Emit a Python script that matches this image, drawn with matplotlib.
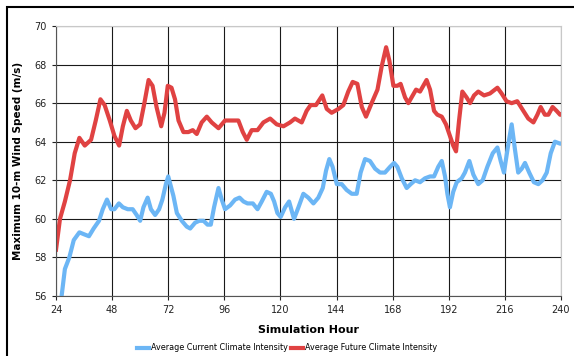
import matplotlib
matplotlib.use('Agg')
import matplotlib.pyplot as plt
from matplotlib.patches import Rectangle

# ---------------------------------------------------------------- data
cur_hour = [24, 26.4, 27.8, 29.7, 31.6, 34, 36, 38.1, 40.1, 42.4, 44, 45.8, 47.6, 49, 50.9,
            52.6, 54.7, 56.8, 58.5, 60, 61.4, 63.2, 64.6, 66.4, 68.1, 69.5, 71, 72, 74.2,
            75.7, 77.8, 79.9, 81.4, 83.5, 85.3, 87.1, 88.8, 90.2, 91.6, 93.5, 94.9, 96.3,
            98.5, 100.6, 102.5, 104.2, 105.9, 108.2, 110.2, 112, 114.1, 115.9, 117.3,
            118.7, 120.1, 122, 123.7, 125.8, 127.7, 129.8, 131.9, 134.1, 136.2, 138.1,
            139.5, 140.9, 142.3, 144.1, 146.2, 148.3, 150.5, 152.6, 154.3, 156.2, 158.3,
            160.5, 162.6, 164.7, 166.9, 168.6, 170, 171.9, 174, 175.7, 177.6, 179.7, 181.8,
            184, 185.7, 187.5, 189, 190.4, 191.4, 192.5, 193.9, 195.4, 197.5, 198.9, 200.8,
            202.5, 204.6, 206.5, 208.5, 210.8, 212.8, 214.2, 215.6, 217.5, 218.9, 220.3,
            221.7, 223.2, 224.6, 226.4, 228.4, 230.3, 232.1, 233.9, 235.6, 237.4, 239.6, 240]
cur_speed = [54.4, 56.0, 57.4, 58.0, 58.9, 59.3, 59.2, 59.1, 59.5, 59.9, 60.5, 61.0, 60.5, 60.5,
             60.8, 60.6, 60.5, 60.5, 60.2, 59.9, 60.6, 61.1, 60.5, 60.2, 60.5, 61.0, 61.8,
             62.2, 61.2, 60.3, 59.9, 59.6, 59.5, 59.8, 59.9, 59.9, 59.7, 59.7, 60.6, 61.6,
             61.0, 60.5, 60.7, 61.0, 61.1, 60.9, 60.8, 60.8, 60.5, 60.9, 61.4, 61.3, 60.9,
             60.3, 60.1, 60.6, 60.9, 60.0, 60.6, 61.3, 61.1, 60.8, 61.1, 61.6, 62.5, 63.1,
             62.7, 61.8, 61.8, 61.5, 61.3, 61.3, 62.4, 63.1, 63.0, 62.6, 62.4, 62.4, 62.7,
             62.9, 62.7, 62.1, 61.6, 61.8, 62.0, 61.9, 62.1, 62.2, 62.2, 62.7, 63.0, 62.2,
             61.3, 60.6, 61.4, 61.9, 62.1, 62.4, 63.0, 62.3, 61.8, 62.0, 62.7, 63.4, 63.7,
             63.0, 62.4, 63.9, 64.9, 63.6, 62.4, 62.6, 62.9, 62.4, 61.9, 61.8, 62.0, 62.4,
             63.4, 64.0, 63.9, 63.9]

fut_hour = [24, 25.7, 27.8, 30, 32, 34, 36.3, 39, 41, 43, 44.8, 47, 49, 51, 52.6, 54.3, 56,
            58, 60, 61.8, 63.6, 65.3, 67, 69, 70.4, 71.8, 73.4, 74.9, 76.4, 78.5, 80.6,
            82.5, 84.2, 86.3, 88.5, 90.6, 93.5, 96.3, 99.2, 102, 103.9, 105.6, 107.7, 110.2,
            112.7, 115.6, 118.4, 121.3, 124.1, 126.2, 129.1, 131.2, 132.9, 135.2, 137.9,
            139.8, 141.9, 144.8, 146.9, 149, 150.9, 152.9, 154.8, 156.6, 159, 161.5, 163.3,
            165.2, 166.6, 168.3, 170, 171.4, 173.3, 174.7, 176.1, 178, 179.7, 181.1, 182.5,
            184, 185.7, 187.1, 189, 190.8, 192.5, 193.9, 195.1, 196.4, 197.8, 199.6, 201.1,
            202.8, 204.6, 207.1, 209.6, 212.8, 214.6, 216.7, 218.9, 221.3, 223.9, 226,
            228.2, 229.9, 231.3, 233.1, 234.6, 236.4, 238.1, 239.6, 240]
fut_speed = [58.4, 60.0, 60.9, 62.0, 63.4, 64.2, 63.8, 64.1, 65.1, 66.2, 65.9, 65.1, 64.3,
             63.8, 64.8, 65.6, 65.1, 64.7, 64.9, 66.0, 67.2, 66.9, 65.8, 64.8, 65.5, 66.9,
             66.8, 66.2, 65.1, 64.5, 64.5, 64.6, 64.4, 65.0, 65.3, 65.0, 64.7, 65.1, 65.1,
             65.1, 64.5, 64.1, 64.6, 64.6, 65.0, 65.2, 64.9, 64.8, 65.0, 65.2, 65.0, 65.6,
             65.9, 65.9, 66.4, 65.7, 65.5, 65.7, 65.9, 66.6, 67.1, 67.0, 65.8, 65.3, 66.0,
             66.7, 67.9, 68.9, 68.2, 66.9, 66.9, 67.0, 66.3, 66.0, 66.3, 66.7, 66.6, 66.9,
             67.2, 66.7, 65.6, 65.4, 65.3, 64.9, 64.3, 63.8, 63.5, 65.1, 66.6, 66.3, 66.0,
             66.4, 66.6, 66.4, 66.5, 66.8, 66.5, 66.1, 66.0, 66.1, 65.6, 65.2, 65.0, 65.4,
             65.8, 65.4, 65.4, 65.8, 65.6, 65.4, 65.4]

x_ticks = list(range(24, 241, 24))
y_ticks = list(range(56, 71, 2))
labels = ['Average Current Climate Intensity', 'Average Future Climate Intensity']

BLUE, RED = '#6cb6f5', '#e04242'

# ---------------------------------------------------------------- chart
fig = plt.figure(figsize=(5.74, 3.56), dpi=100)
W, H = 574, 356
ax = fig.add_axes([56 / W, 1 - 296 / H, (561 - 56) / W, (296 - 26) / H])

ax.plot(cur_hour, cur_speed, color=BLUE, lw=3.0, solid_joinstyle='round', label=labels[0])
ax.plot(fut_hour, fut_speed, color=RED, lw=3.0, solid_joinstyle='round', label=labels[1])

ax.set_xlim(24, 240)
ax.set_ylim(56, 70)
ax.set_xticks(x_ticks)
ax.set_yticks(y_ticks)
ax.grid(True, color='#1a1a1a', linewidth=0.8)
ax.set_axisbelow(True)
ax.tick_params(labelsize=7, colors='#222222', length=3, width=0.8)
for s in ('top', 'right'):
    ax.spines[s].set_color('#c8c8c8')
for s in ('left', 'bottom'):
    ax.spines[s].set_color('#555555')

ax.set_xlabel('Simulation Hour', fontsize=8, fontweight='bold', labelpad=7)
ax.set_ylabel('Maximum 10-m Wind Speed (m/s)', fontsize=7.5, fontweight='bold', labelpad=8)

fig.legend(loc='center', bbox_to_anchor=(287 / W, 1 - 348 / H), ncol=2, frameon=False,
           fontsize=5.8, handlelength=1.5, handletextpad=0.25, columnspacing=0.4)

# outer chart frame (cropped on the right and bottom in the reference)
fig.patches.append(Rectangle((7 / W, -0.05), 1.1, 1 - 7 / H + 0.05, transform=fig.transFigure,
                             fill=False, edgecolor='black', linewidth=1.5))

fig.savefig('out.png', dpi=100)
